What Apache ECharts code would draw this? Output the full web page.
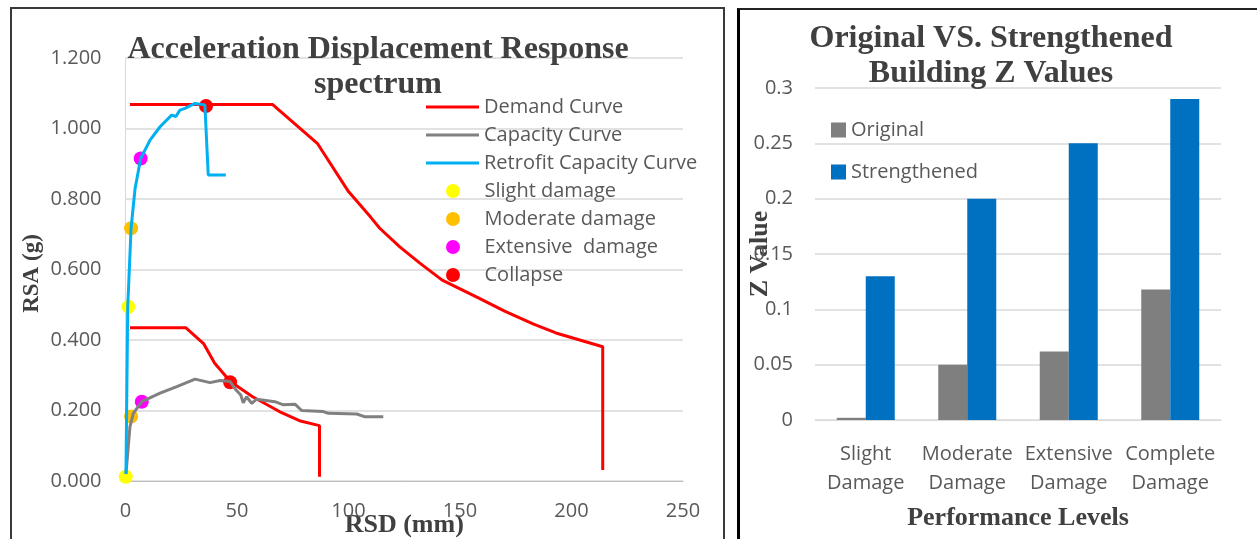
<!DOCTYPE html>
<html>
<head>
<meta charset="utf-8">
<script src="https://cdn.jsdelivr.net/npm/echarts@6/dist/echarts.min.js"></script>
<style>
  html, body { margin: 0; padding: 0; background: #fff; }
  body { width: 1257px; height: 539px; position: relative; overflow: hidden; }
  /* chart frames */
  .frameLeft { position: absolute; left: 10px; top: 7px; width: 711px; height: 540px; border: 2px solid #3a3a3a; border-bottom: none; }
  .frameRight { position: absolute; left: 737px; top: 8px; width: 530px; height: 540px; border-left: 3px solid #000; border-top: 2px solid #222; }
  #main { position: absolute; left: 0; top: 0; width: 1257px; height: 539px; }
</style>
</head>
<body>
<div class="frameLeft"></div>
<div class="frameRight"></div>
<div id="main"></div>
<script>
// ---- left chart: [RSD (mm), RSA (g)] ----
var demandUpper = [[2,1.068],[66,1.068],[86,0.958],[100,0.821],[110,0.748],[114,0.717],[123,0.664],[132,0.618],[142,0.57],[150,0.545],[158,0.52],[170,0.482],[183,0.445],[193,0.42],[201,0.405],[214,0.381],[214,0.031]];
var demandLower = [[2,0.435],[27,0.435],[35,0.39],[40,0.334],[47,0.282],[57,0.239],[69,0.197],[78,0.171],[87,0.157],[87,0.012]];
var capacity = [[0.2,0.02],[2,0.154],[3.5,0.192],[7.3,0.225],[15.5,0.249],[23,0.268],[31.2,0.289],[37.9,0.279],[42.4,0.285],[46.9,0.282],[49.6,0.258],[51.7,0.244],[52.8,0.222],[54.3,0.239],[56.6,0.22],[58.8,0.232],[67,0.225],[70.8,0.216],[76,0.218],[79,0.2],[88.7,0.197],[91,0.192],[103.7,0.19],[107.4,0.182],[115.6,0.182]];
var retrofit = [[0.2,0.02],[1,0.495],[2.5,0.717],[4.3,0.83],[6.8,0.915],[11,0.967],[15.5,1.005],[20.7,1.038],[22.6,1.034],[24.4,1.052],[26.7,1.057],[28.2,1.062],[31.2,1.071],[35.6,1.067],[37.1,0.868],[45,0.868]];
var slightPts = [[0.1,0.012],[1.3,0.494]];
var moderatePts = [[2.5,0.183],[2.5,0.717]];
var extensivePts = [[7.3,0.225],[6.8,0.915]];
var collapsePts = [[46.9,0.28],[36.1,1.064]];

// ---- right chart ----
var levels = ['Slight\nDamage', 'Moderate\nDamage', 'Extensive\nDamage', 'Complete\nDamage'];
var original = [0.002, 0.05, 0.062, 0.118];
var strengthened = [0.13, 0.2, 0.25, 0.29];

var sans = 'Open Sans';
var serif = 'Liberation Serif';
var tickColor = '#595959';
var gridColor = '#d9d9d9';

var chart = echarts.init(document.getElementById('main'));

function lineSeries(name, data, color) {
  return {
    name: name, type: 'line', xAxisIndex: 0, yAxisIndex: 0,
    data: data, symbol: 'none', showSymbol: false,
    lineStyle: { color: color, width: 3 }, itemStyle: { color: color },
    animation: false
  };
}
function pointSeries(name, data, color) {
  return {
    name: name, type: 'scatter', xAxisIndex: 0, yAxisIndex: 0,
    data: data, symbolSize: 14, itemStyle: { color: color, opacity: 1 },
    animation: false
  };
}

var legendText = { fontFamily: sans, fontSize: 20, color: tickColor };
var nameText = { fontFamily: serif, fontWeight: 'bold', fontSize: 26, color: '#404040' };

var option = {
  backgroundColor: 'transparent',
  title: [
    {
      text: 'Acceleration Displacement Response\nspectrum',
      left: 373, top: 27, textAlign: 'center',
      textStyle: { fontFamily: serif, fontWeight: 'bold', fontSize: 32, lineHeight: 35, color: '#404040' }
    },
    {
      text: 'Original VS. Strengthened\nBuilding Z Values',
      left: 986, top: 16, textAlign: 'center',
      textStyle: { fontFamily: serif, fontWeight: 'bold', fontSize: 32, lineHeight: 35, color: '#404040' }
    }
  ],
  legend: [
    {
      orient: 'vertical', left: 421, top: 92,
      itemWidth: 53, itemHeight: 3, itemGap: 8, icon: 'rect',
      textStyle: legendText,
      data: ['Demand Curve', 'Capacity Curve', 'Retrofit Capacity Curve']
    },
    {
      orient: 'vertical', left: 441, top: 176,
      itemWidth: 53, itemHeight: 14, itemGap: 8, icon: 'circle',
      textStyle: legendText,
      data: ['Slight damage', 'Moderate damage', 'Extensive  damage', 'Collapse']
    },
    {
      orient: 'vertical', left: 826, top: 115,
      itemWidth: 15, itemHeight: 15, itemGap: 22, icon: 'rect',
      textStyle: legendText,
      data: ['Original', 'Strengthened']
    }
  ],
  grid: [
    { left: 125.5, top: 58, width: 557.5, height: 423, outerBoundsMode: 'none' },
    { left: 815, top: 88, width: 406, height: 332, outerBoundsMode: 'none' }
  ],
  xAxis: [
    {
      gridIndex: 0, type: 'value', min: 0, max: 250, interval: 50,
      name: 'RSD (mm)', nameLocation: 'middle', nameGap: 31, nameMoveOverlap: false,
      nameTextStyle: nameText,
      axisLine: { show: true, lineStyle: { color: '#bfbfbf', width: 1 } },
      axisTick: { show: false }, splitLine: { show: false },
      axisLabel: { fontFamily: sans, fontSize: 20, color: tickColor, margin: 20 }
    },
    {
      gridIndex: 1, type: 'category', data: levels,
      name: 'Performance Levels', nameLocation: 'middle', nameGap: 85, nameMoveOverlap: false,
      nameTextStyle: nameText,
      axisLine: { show: true, lineStyle: { color: gridColor, width: 1 } },
      axisTick: { show: false },
      axisLabel: { fontFamily: sans, fontSize: 20, lineHeight: 29, color: tickColor, margin: 20, interval: 0 }
    }
  ],
  yAxis: [
    {
      gridIndex: 0, type: 'value', min: 0, max: 1.2, interval: 0.2,
      name: 'RSA (g)', nameLocation: 'middle', nameGap: 82, nameMoveOverlap: false,
      nameTextStyle: { fontFamily: serif, fontWeight: 'bold', fontSize: 23, color: '#404040', padding: [0, 8, 0, 0] },
      axisLine: { show: true, lineStyle: { color: gridColor, width: 1 } },
      axisTick: { show: false },
      splitLine: { show: true, lineStyle: { color: gridColor, width: 1.5 } },
      axisLabel: { fontFamily: sans, fontSize: 20, color: tickColor, margin: 24, formatter: function (v) { return v.toFixed(3); } }
    },
    {
      gridIndex: 1, type: 'value', min: 0, max: 0.3, interval: 0.05,
      name: 'Z Value', nameLocation: 'middle', nameGap: 42, nameMoveOverlap: false,
      nameTextStyle: nameText,
      axisLine: { show: false }, axisTick: { show: false },
      splitLine: { show: true, lineStyle: { color: gridColor, width: 1.5 } },
      axisLabel: { fontFamily: sans, fontSize: 20, color: tickColor, margin: 22 }
    }
  ],
  series: [
    lineSeries('Demand Curve', demandUpper, '#ff0000'),
    lineSeries('Demand Curve', demandLower, '#ff0000'),
    lineSeries('Capacity Curve', capacity, '#808080'),
    lineSeries('Retrofit Capacity Curve', retrofit, '#00b0f0'),
    pointSeries('Slight damage', slightPts, '#ffff00'),
    pointSeries('Moderate damage', moderatePts, '#ffc000'),
    pointSeries('Extensive  damage', extensivePts, '#ff00ff'),
    pointSeries('Collapse', collapsePts, '#ff0000'),
    {
      name: 'Original', type: 'bar', xAxisIndex: 1, yAxisIndex: 1,
      data: original, barWidth: 29, barGap: '0%',
      itemStyle: { color: '#7f7f7f' }, animation: false
    },
    {
      name: 'Strengthened', type: 'bar', xAxisIndex: 1, yAxisIndex: 1,
      data: strengthened, barWidth: 29, barGap: '0%',
      itemStyle: { color: '#0070c0' }, animation: false
    }
  ]
};
chart.setOption(option);
</script>
</body>
</html>
